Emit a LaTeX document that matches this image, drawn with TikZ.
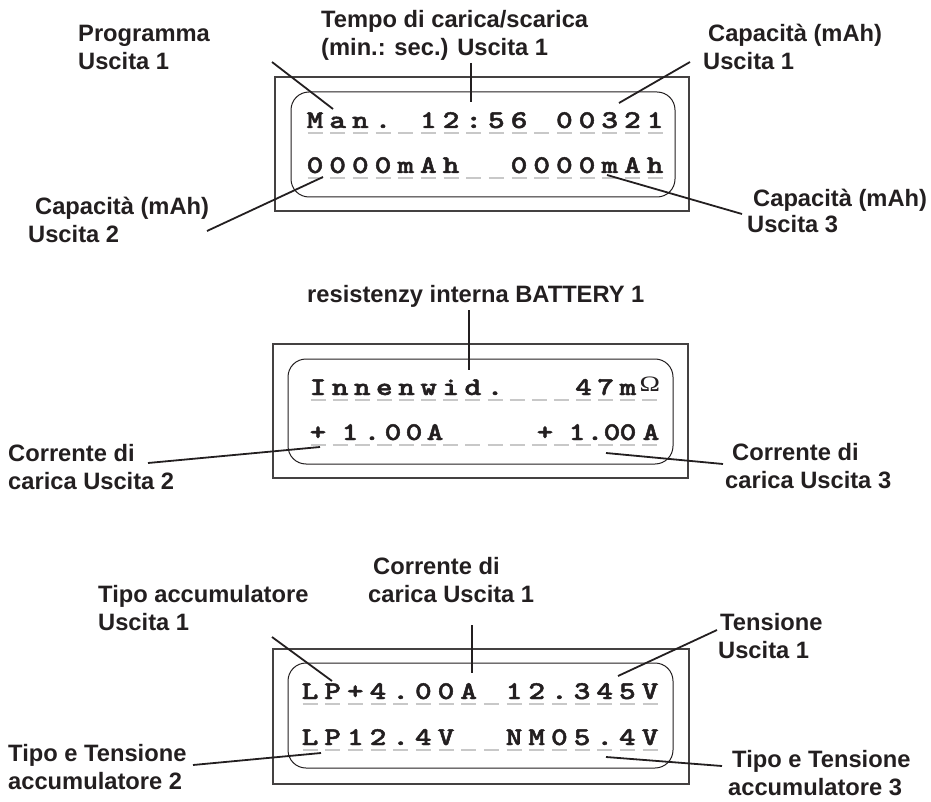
\documentclass[tikz,border=0pt]{standalone}
\usepackage{graphicx}
\usepackage{fontspec}
\setmainfont{Liberation Sans}
\newfontfamily\lcdfont{lmmonolt10-bold.otf}[FakeBold=1.6]
\newfontfamily\omfont{Liberation Serif}
\definecolor{ink}{HTML}{231F20}
\definecolor{dashgray}{HTML}{C8C8C8}
\newcommand\lcdc[1]{\scalebox{1.25}[1]{#1}}
\newcommand\omg{\raisebox{4pt}{\omfont\fontsize{22}{22}\selectfont Ω}}
\tikzset{
  lab/.style={anchor=base west, inner sep=0pt, font=\bfseries\fontsize{23.7}{28}\selectfont, text=ink},
  lcdchar/.style={anchor=base, inner sep=0pt, font=\lcdfont\fontsize{25.5}{25.5}\selectfont, text=ink},
  lcddash/.style={draw=dashgray, line width=1.2pt},
  leader/.style={draw=ink, line width=1.8pt},
  outerbox/.style={draw=ink!85, line width=1.2pt},
  innerbox/.style={draw=ink, line width=1pt, rounded corners=18pt}
}
% #1 prefix, #2 x0, #3 pitch, #4 baseline, #5 list
\newcommand\lcdgrid[5]{%
  \foreach \ch [count=\i] in {#5} {
    \node[lcdchar] (#1c\i) at ({#2+(\i-1)*#3},#4) {\lcdc{\ch}};
  }}
% #1 prefix, #2 x0, #3 pitch, #4 baseline
\newcommand\lcddashes[4]{%
  \foreach \i in {1,...,16} {
    \coordinate (#1d\i) at ({#2+(\i-1)*#3},#4+5);
    \draw[lcddash] ([xshift=-7.5]#1d\i) -- ([xshift=7.5]#1d\i);
  }}
\begin{document}
\begin{tikzpicture}[x=1pt,y=-1pt]
\useasboundingbox (0,0) rectangle (931,802);

% ---------- Panel 1 ----------
\draw[outerbox] (275,77) rectangle (689,211);
\draw[innerbox] (291,92) rectangle (675,197);
\lcddashes{pa}{315}{22.67}{128}
\lcddashes{pb}{315}{22.67}{173}
\lcdgrid{pa}{315}{22.67}{128}{M,a,n,.,{},1,2,:,5,6,{},0,0,3,2,1}
\lcdgrid{pb}{315}{22.67}{173}{0,0,0,0,m,A,h,{},{},0,0,0,0,m,A,h}

\node[lab] (t1a) at (78,42) {Programma};
\node[lab] (t1b) at (78,70) {Uscita 1};
\node[lab] (t2a) at (321,28) {Tempo di carica/scarica};
\node[lab] (t2b) at (321,56) {(min.: sec.) Uscita 1};
\node[lab] (t3a) at (708,42) {Capacità (mAh)};
\node[lab] (t3b) at (703,70) {Uscita 1};
\node[lab] (t4a) at (35,215) {Capacità (mAh)};
\node[lab] (t4b) at (28,243) {Uscita 2};
\node[lab] (t5a) at (753,207) {Capacità (mAh)};
\node[lab] (t5b) at (747,233) {Uscita 3};

\coordinate (a1s) at (272,62);  \coordinate (a1e) at (333,109);
\coordinate (a2s) at (471,63);  \coordinate (a2e) at (471,102);
\coordinate (a3s) at (690,62);  \coordinate (a3e) at (619,103);
\coordinate (a4s) at (207,231); \coordinate (a4e) at (323,177);
\coordinate (a5s) at (742,214); \coordinate (a5e) at (607,175);
\draw[leader] (a1s) -- (a1e);
\draw[leader] (a2s) -- (a2e);
\draw[leader] (a3s) -- (a3e);
\draw[leader] (a4s) -- (a4e);
\draw[leader] (a5s) -- (a5e);

% ---------- Panel 2 ----------
\draw[outerbox] (273,344) rectangle (688,478);
\draw[innerbox] (288,359) rectangle (673,464);
\lcddashes{qa}{318}{22.13}{395}
\lcddashes{qb}{318}{22.13}{440}
\lcdgrid{qa}{318}{22.13}{395}{I,n,n,e,n,w,i,d,.,{},{},{},4,7,m,\omg}
\foreach \x/\ch [count=\i] in {318/+,350/1,372/.,393/0,414/0,435/A,545/+,577/1,595/.,612/0,628/0,651/A}{
  \node[lcdchar] (qbc\i) at (\x,440) {\lcdc{\ch}};
}

\node[lab] (u1) at (307,302) {resistenzy interna BATTERY 1};
\node[lab] (u2a) at (8,461) {Corrente di};
\node[lab] (u2b) at (8,489) {carica Uscita 2};
\node[lab] (u3a) at (732,460) {Corrente di};
\node[lab] (u3b) at (725,488) {carica Uscita 3};

\coordinate (b1s) at (469,310); \coordinate (b1e) at (469,370);
\coordinate (b2s) at (148,463); \coordinate (b2e) at (320,447);
\coordinate (b3s) at (723,464); \coordinate (b3e) at (606,453);
\draw[leader] (b1s) -- (b1e);
\draw[leader] (b2s) -- (b2e);
\draw[leader] (b3s) -- (b3e);

% ---------- Panel 3 ----------
\draw[outerbox] (273,649) rectangle (689,784);
\draw[innerbox] (288,663) rectangle (673,768);
\lcddashes{ra}{310}{22.67}{699}
\lcddashes{rb}{310}{22.67}{745}
\lcdgrid{ra}{310}{22.67}{699}{L,P,+,4,.,0,0,A,{},1,2,.,3,4,5,V}
\lcdgrid{rb}{310}{22.67}{745}{L,P,1,2,.,4,V,{},{},N,M,0,5,.,4,V}

\node[lab] (v1a) at (373,574) {Corrente di};
\node[lab] (v1b) at (368,602) {carica Uscita 1};
\node[lab] (v2a) at (98,602) {Tipo accumulatore};
\node[lab] (v2b) at (98,630) {Uscita 1};
\node[lab] (v3a) at (720,630) {Tensione};
\node[lab] (v3b) at (718,658) {Uscita 1};
\node[lab] (v4a) at (8,761) {Tipo e Tensione};
\node[lab] (v4b) at (8,789) {accumulatore 2};
\node[lab] (v5a) at (732,767) {Tipo e Tensione};
\node[lab] (v5b) at (728,795) {accumulatore 3};

\coordinate (c1s) at (272,637); \coordinate (c1e) at (332,681);
\coordinate (c2s) at (472,625); \coordinate (c2e) at (472,673);
\coordinate (c3s) at (717,630); \coordinate (c3e) at (618,676);
\coordinate (c4s) at (193,765); \coordinate (c4e) at (321,753);
\coordinate (c5s) at (722,766); \coordinate (c5e) at (606,757);
\draw[leader] (c1s) -- (c1e);
\draw[leader] (c2s) -- (c2e);
\draw[leader] (c3s) -- (c3e);
\draw[leader] (c4s) -- (c4e);
\draw[leader] (c5s) -- (c5e);
\end{tikzpicture}
\end{document}
